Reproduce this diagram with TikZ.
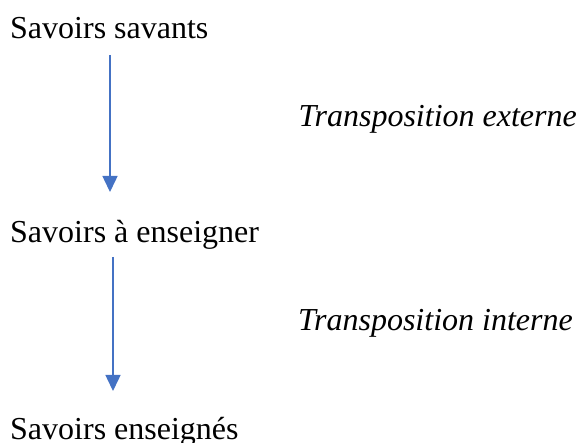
\documentclass[tikz,border=0pt]{standalone}
\usepackage{fontspec}
\setmainfont{Liberation Serif}
\usetikzlibrary{arrows.meta}

\definecolor{flecheblue}{RGB}{68,114,196}
\tikzset{
  savoir/.style={inner sep=0pt, font=\fontsize{32}{38}\selectfont},
  transpo/.style={inner sep=0pt, font=\fontsize{32}{38}\selectfont\itshape},
  fleche/.style={draw=flecheblue, line width=1.5pt,
    -{Triangle[width=15pt,length=16pt]}, flecheblue},
}

\begin{document}
\begin{tikzpicture}[x=1pt, y=-1pt]
\useasboundingbox (0,0) rectangle (579,443);
\node[savoir, anchor=base west] (savants)    at (10,39)   {Savoirs savants};
\node[savoir, anchor=base west] (aenseigner) at (10,243)  {Savoirs à enseigner};
\node[savoir, anchor=base west] (enseignes)  at (10,440)  {Savoirs enseignés};
\node[transpo, anchor=base east] (externe) at (577,127) {Transposition externe};
\node[transpo, anchor=base east] (interne) at (573,331) {Transposition interne};
% arrows between the three levels
\coordinate (d1) at (110,55);  \coordinate (f1) at (110,192);
\coordinate (d2) at (113,257); \coordinate (f2) at (113,391);
\draw[fleche] (d1) -- (f1);
\draw[fleche] (d2) -- (f2);
\end{tikzpicture}
\end{document}
